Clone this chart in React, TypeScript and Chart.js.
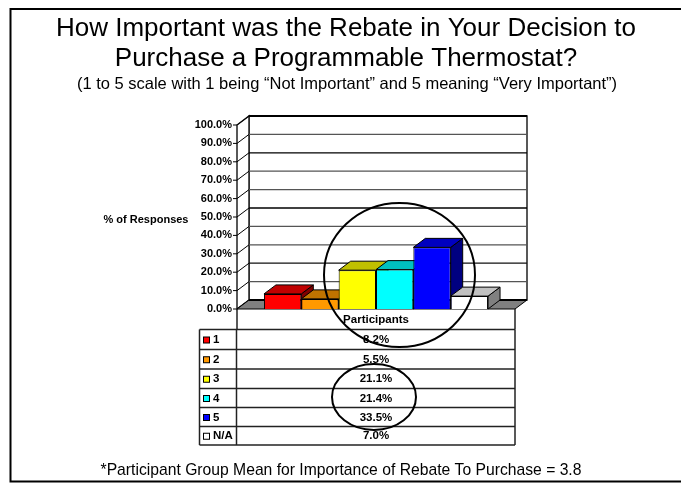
import React, { useEffect, useRef } from "react";
import { Chart, registerables } from "chart.js";

Chart.register(...registerables);

const seriesNames = ["1", "2", "3", "4", "5", "N/A"];
const seriesValues = [8.2, 5.5, 21.1, 21.4, 33.5, 7.0];
const categories = ["Participants"];
const frontColors = ["#ff0000", "#ff9900", "#ffff00", "#00ffff", "#0000ff", "#ffffff"];
const topColors = ["#c00000", "#c07300", "#c0c000", "#00c0c0", "#0000c0", "#c0c0c0"];
const sideColors = ["#800000", "#804d00", "#808000", "#008080", "#000080", "#808080"];
const titleLines = [
  "How Important was the Rebate in Your Decision to",
  "Purchase a Programmable Thermostat?",
];
const subtitleText = "(1 to 5 scale with 1 being \u201CNot Important\u201D and 5 meaning \u201CVery Important\u201D)";
const footnoteText = "*Participant Group Mean for Importance of Rebate To Purchase = 3.8";
const yAxisTitle = "% of Responses";
const gridShades = ["#222", "#555", "#111", "#555", "#555", "#000", "#555", "#555", "#000", "#555", "#000"];

const FONT = '"Liberation Sans", Arial, sans-serif';
const DX = 12;
const DY = -9;
const TABLE_LEFT = 199.5;
const rowLines = [329.5, 349.5, 369, 388.5, 407.5, 426.5, 445];

const poly = (ctx: CanvasRenderingContext2D, pts: number[][], fill: string, stroke = "#000", lw = 1) => {
  ctx.beginPath();
  pts.forEach((p, i) => (i ? ctx.lineTo(p[0], p[1]) : ctx.moveTo(p[0], p[1])));
  ctx.closePath();
  ctx.fillStyle = fill;
  ctx.fill();
  ctx.strokeStyle = stroke;
  ctx.lineWidth = lw;
  ctx.stroke();
};

const line = (ctx: CanvasRenderingContext2D, x1: number, y1: number, x2: number, y2: number, lw = 1, c = "#000") => {
  ctx.beginPath();
  ctx.moveTo(x1, y1);
  ctx.lineTo(x2, y2);
  ctx.strokeStyle = c;
  ctx.lineWidth = lw;
  ctx.stroke();
};

const scene3d = {
  id: "scene3d",
  beforeDatasetsDraw(chart: any) {
    const { ctx, chartArea: a, scales } = chart;
    const y = scales.y;
    ctx.save();
    const L = a.left, R = a.right, T = a.top, B = a.bottom;
    poly(ctx, [[L + DX, T + DY], [R + DX, T + DY], [R + DX, B + DY], [L + DX, B + DY]], "#ffffff", "#222", 1.5);
    poly(ctx, [[L, T], [L + DX, T + DY], [L + DX, B + DY], [L, B]], "#ffffff", "#222", 1.5);
    y.ticks.forEach((t: any, i: number) => {
      const py = y.getPixelForValue(t.value);
      line(ctx, L, py, L + DX, py + DY);
      line(ctx, L + DX, py + DY, R + DX, py + DY, t.value === 100 ? 2 : 1.3, gridShades[i]);
      line(ctx, L - 4, py, L, py);
    });
    poly(ctx, [[L, B], [L + DX, B + DY], [R + DX, B + DY], [R, B]], "#808080");
    line(ctx, L + DX, B + DY, R + DX, B + DY, 2);
    chart.data.datasets.forEach((_: any, i: number) => {
      const el = chart.getDatasetMeta(i).data[0];
      const hw = el.width / 2;
      const x0 = el.x - hw, x1 = el.x + hw, yt = el.y, yb = el.base;
      poly(ctx, [[x1, yt], [x1 + DX, yt + DY], [x1 + DX, yb + DY], [x1, yb]], sideColors[i]);
      poly(ctx, [[x0, yt], [x0 + DX, yt + DY], [x1 + DX, yt + DY], [x1, yt]], topColors[i]);
    });
    ctx.restore();
  },
  afterDraw(chart: any) {
    const { ctx, chartArea: a } = chart;
    const cx = (a.left + a.right) / 2;
    ctx.save();
    // slide frame: top, left and bottom edges only
    ctx.strokeStyle = "#000";
    ctx.lineWidth = 2;
    ctx.beginPath();
    ctx.moveTo(681, 9);
    ctx.lineTo(10.5, 9);
    ctx.lineTo(10.5, 481.5);
    ctx.lineTo(681, 481.5);
    ctx.stroke();
    ctx.fillStyle = "#000";
    ctx.textAlign = "center";
    ctx.textBaseline = "alphabetic";
    ctx.font = `26px ${FONT}`;
    ctx.fillText(titleLines[0], 346, 36);
    ctx.fillText(titleLines[1], 346, 66);
    ctx.font = `16.5px ${FONT}`;
    ctx.fillText(subtitleText, 347, 89);
    ctx.font = `15.7px ${FONT}`;
    ctx.fillText(footnoteText, 341, 475);
    ctx.font = `bold 11px ${FONT}`;
    ctx.fillText(yAxisTitle, 146, 223);
    const top = a.bottom;
    line(ctx, a.left, top, a.left, rowLines[0], 1.5, "#222");
    line(ctx, a.right, top, a.right, rowLines[0], 1.5, "#222");
    rowLines.forEach((ry) => line(ctx, TABLE_LEFT, ry, a.right, ry, 1.5, "#222"));
    const last = rowLines[rowLines.length - 1];
    line(ctx, TABLE_LEFT, rowLines[0], TABLE_LEFT, last, 1.5, "#222");
    line(ctx, a.left - 0.5, rowLines[0], a.left - 0.5, last, 1.5, "#222");
    line(ctx, a.right, rowLines[0], a.right, last, 1.5, "#222");
    ctx.fillStyle = "#000";
    ctx.font = `bold 11.5px ${FONT}`;
    ctx.textBaseline = "middle";
    ctx.fillText(categories[0], cx, (top + rowLines[0]) / 2 + 0.5);
    seriesNames.forEach((name, i) => {
      const my = (rowLines[i] + rowLines[i + 1]) / 2 + 0.5;
      ctx.fillStyle = frontColors[i];
      ctx.strokeStyle = "#000";
      ctx.lineWidth = 1;
      ctx.fillRect(203.5, my - 3, 6, 6);
      ctx.strokeRect(203.5, my - 3, 6, 6);
      ctx.fillStyle = "#000";
      ctx.textAlign = "left";
      ctx.fillText(name, 213, my);
      ctx.textAlign = "center";
      ctx.fillText(seriesValues[i].toFixed(1) + "%", cx, my);
    });
    ctx.strokeStyle = "#000";
    ctx.lineWidth = 2;
    ctx.beginPath();
    ctx.ellipse(399.5, 275, 75.5, 72, 0, 0, Math.PI * 2);
    ctx.stroke();
    ctx.beginPath();
    ctx.ellipse(374, 397, 42, 33, 0, 0, Math.PI * 2);
    ctx.stroke();
    ctx.restore();
  },
};

export default function App() {
  const ref = useRef<HTMLCanvasElement>(null);
  useEffect(() => {
    const chart = new Chart(ref.current as HTMLCanvasElement, {
      type: "bar",
      data: {
        labels: categories,
        datasets: seriesNames.map((name, i) => ({
          label: name,
          data: [seriesValues[i]],
          backgroundColor: frontColors[i],
          borderColor: "#000",
          borderWidth: 1,
          categoryPercentage: 0.806,
          barPercentage: 1,
        })),
      },
      options: {
        responsive: false,
        animation: false,
        layout: { padding: { left: 0, right: 166, top: 125, bottom: 174 } },
        plugins: { legend: { display: false }, title: { display: false }, tooltip: { enabled: false } },
        scales: {
          x: { display: false },
          y: {
            min: 0,
            max: 100,
            afterFit: (s: any) => { s.width = 237; },
            border: { display: false },
            grid: { display: false, drawTicks: false },
            ticks: {
              stepSize: 10,
              autoSkip: false,
              padding: 5,
              color: "#000",
              font: { family: FONT, size: 11, weight: "bold" },
              callback: (v: any) => Number(v).toFixed(1) + "%",
            },
          },
        },
      },
      plugins: [scene3d],
    } as any);
    return () => chart.destroy();
  }, []);
  return (
    <div style={{ position: "absolute", left: 0, top: 0, width: 681, height: 483, background: "#fff", overflow: "hidden" }}>
      <canvas ref={ref} width={681} height={483} style={{ display: "block" }} />
    </div>
  );
}
